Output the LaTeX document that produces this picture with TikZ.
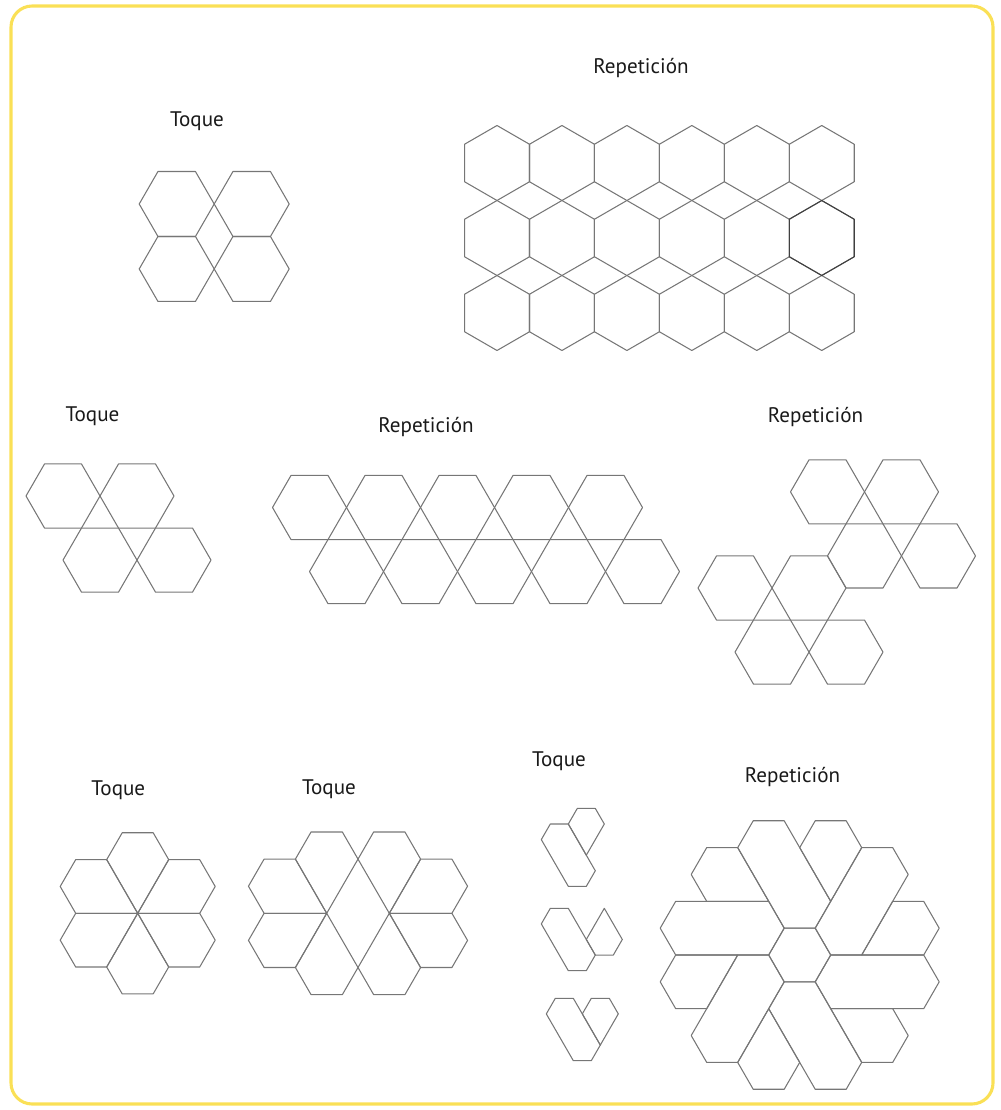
\documentclass[tikz,border=0pt]{standalone}
\usepackage{fontspec}
\setmainfont{PT Sans}
\usetikzlibrary{calc}

\definecolor{marco}{RGB}{250,224,86}
\definecolor{trazo}{RGB}{118,118,118}

\begin{document}
\begin{tikzpicture}[x=0.025cm, y=0.025cm,
    hexline/.style={draw=trazo, line width=0.75pt, line join=round},
    titulo/.style={anchor=base, inner sep=0pt, font=\fontsize{15}{18}\selectfont, text=black!90}]

% Marco
\useasboundingbox (0,0) rectangle (1000,-1110);
\draw[marco, line width=2.2pt, rounded corners=15pt] (11,-6) rectangle (993,-1104);

% Toque (arriba)
\node[titulo] (toqueA) at (197,-126.7) {Toque};
\begin{scope}[shift={(176.7,-204)}, scale=37.5]
  \foreach \i/\j in {0/0, 2/0, 0/-1.732, 2/-1.732}
    \draw[hexline] (\i,\j) ++(0:1) -- ++(120:1) -- ++(180:1) -- ++(240:1) -- ++(300:1) -- ++(0:1) -- cycle;
\end{scope}

% Repeticion (arriba)
\node[titulo] (repA) at (641,-74) {Repetición};
\begin{scope}[shift={(497,-163)}, scale=37.5]
  \foreach \i in {0,...,5}
    \foreach \j in {0,1,2}
      \draw[hexline] ({1.732*\i},{-2*\j}) ++(90:1) -- ++(210:1) -- ++(270:1) -- ++(330:1) -- ++(30:1) -- ++(90:1) -- cycle;
  \draw[hexline, draw=black!75] ({1.732*5},-2) ++(90:1) -- ++(210:1) -- ++(270:1) -- ++(330:1) -- ++(30:1) -- ++(90:1) -- cycle;
\end{scope}

% Toque (medio)
\node[titulo] (toqueB) at (92.5,-421.7) {Toque};
\begin{scope}[shift={(63,-496)}, scale=37]
  \foreach \i/\j in {0/0, 2/0, 1/-1.732, 3/-1.732}
    \draw[hexline] (\i,\j) ++(0:1) -- ++(120:1) -- ++(180:1) -- ++(240:1) -- ++(300:1) -- ++(0:1) -- cycle;
\end{scope}

% Repeticion (medio)
\node[titulo] (repB) at (426,-432.7) {Repetición};
\begin{scope}[shift={(309.5,-507.5)}, scale=37]
  \foreach \k in {0,...,4} {
    \draw[hexline] (2*\k,0) ++(0:1) -- ++(120:1) -- ++(180:1) -- ++(240:1) -- ++(300:1) -- ++(0:1) -- cycle;
    \draw[hexline] (2*\k+1,-1.732) ++(0:1) -- ++(120:1) -- ++(180:1) -- ++(240:1) -- ++(300:1) -- ++(0:1) -- cycle;
  }
\end{scope}

% Repeticion (derecha)
\node[titulo] (repC) at (815.5,-422.7) {Repetición};
\begin{scope}[shift={(735,-588)}, scale=37]
  \foreach \i/\j in {0/0, 2/0, 1/-1.732, 3/-1.732, 2.5/2.598, 4.5/2.598, 3.5/0.866, 5.5/0.866}
    \draw[hexline] (\i,\j) ++(0:1) -- ++(120:1) -- ++(180:1) -- ++(240:1) -- ++(300:1) -- ++(0:1) -- cycle;
\end{scope}

% Toque (flor)
\node[titulo] (toqueC) at (118.3,-795) {Toque};
\begin{scope}[shift={(137.7,-913.3)}, scale=31]
  \foreach \t in {0,60,...,300}
    \draw[hexline] (0,0) -- ++(\t:2) -- ++(\t+60:1) -- ++(\t+120:1) -- ++(\t+180:1) -- cycle;
\end{scope}

% Toque (doble flor)
\node[titulo] (toqueD) at (329,-794.3) {Toque};
\begin{scope}[shift={(326.7,-913.3)}, scale=31.3]
  \foreach \t in {60,120,180,240}
    \draw[hexline] (0,0) -- ++(\t:2) -- ++(\t+60:1) -- ++(\t+120:1) -- ++(\t+180:1) -- cycle;
  \foreach \t in {240,300,0,60}
    \draw[hexline] (2,0) -- ++(\t:2) -- ++(\t+60:1) -- ++(\t+120:1) -- ++(\t+180:1) -- cycle;
\end{scope}

% Toque (piezas)
\node[titulo] (toqueE) at (559,-766) {Toque};
\begin{scope}[shift={(568.3,-824)}, scale=18]
  \draw[hexline] (0,0) -- ++(300:3) -- ++(240:1) -- ++(180:1) -- ++(120:3) -- ++(60:1) -- cycle;
  \draw[hexline] (1,-1.732) -- ++(60:2) -- ++(120:1) -- ++(180:1) -- ++(240:1) -- cycle;
\end{scope}
\begin{scope}[shift={(568.3,-908.3)}, scale=18]
  \draw[hexline] (0,0) -- ++(300:3) -- ++(240:1) -- ++(180:1) -- ++(120:3) -- ++(60:1) -- cycle;
  \draw[hexline] (2,0) -- ++(240:2) -- ++(300:1) -- ++(0:1) -- ++(60:1) -- cycle;
\end{scope}
\begin{scope}[shift={(573.3,-998.3)}, scale=18]
  \draw[hexline] (0,0) -- ++(300:3) -- ++(240:1) -- ++(180:1) -- ++(120:3) -- ++(60:1) -- cycle;
  \draw[hexline] (1.5,-2.598) -- ++(60:2) -- ++(120:1) -- ++(180:1) -- ++(240:1) -- cycle;
\end{scope}

% Repeticion (estrella)
\node[titulo] (repD) at (792.5,-782.7) {Repetición};
\begin{scope}[shift={(799.7,-955)}, scale=31]
  \draw[hexline] (1,0) -- ++(120:1) -- ++(180:1) -- ++(240:1) -- ++(300:1) -- ++(0:1) -- cycle;
  \foreach \k in {0,...,5} {
    \draw[hexline, rotate=60*\k] (-4,0) -- ++(0:3) -- ++(60:1) -- ++(120:1) -- ++(180:3) -- ++(240:1) -- cycle;
    \draw[hexline, rotate=60*\k] (-2,0) -- ++(180:2) -- ++(240:1) -- ++(300:1) -- ++(0:1) -- cycle;
  }
\end{scope}

\end{tikzpicture}
\end{document}
